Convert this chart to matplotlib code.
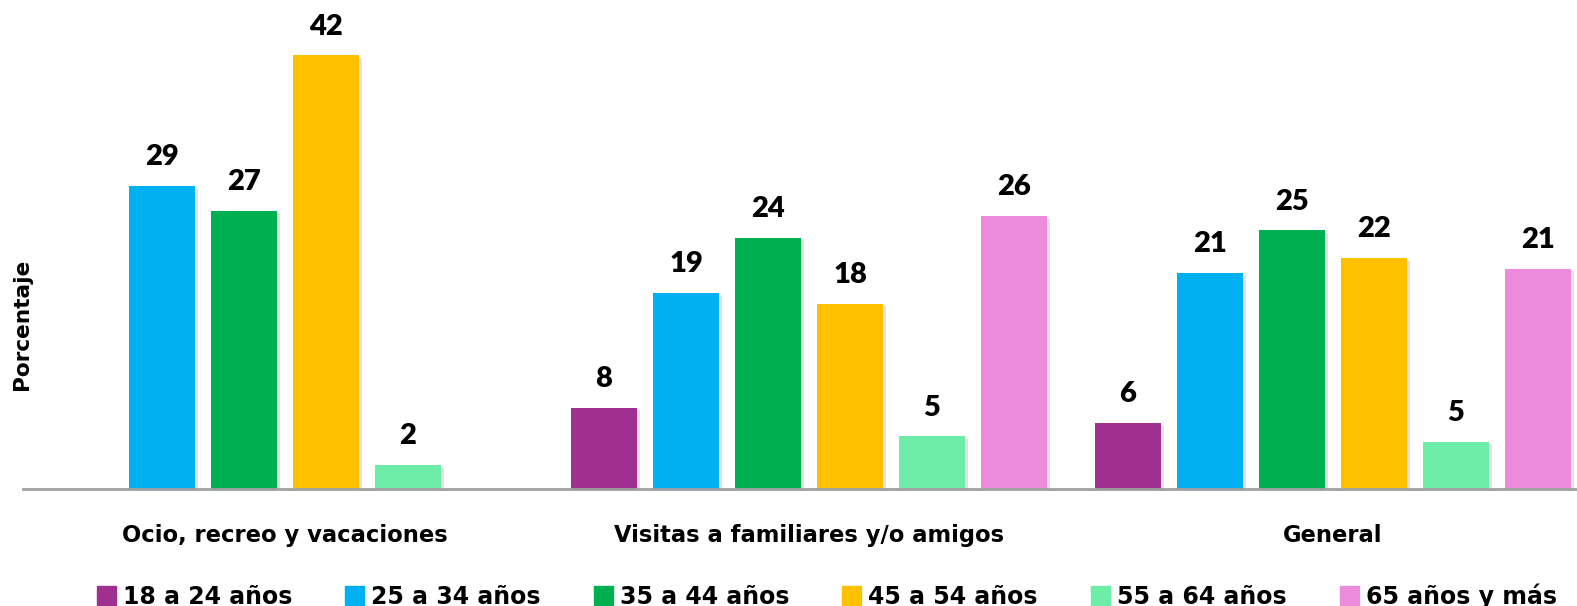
import numpy as np
import matplotlib
matplotlib.use("Agg")
import matplotlib.pyplot as plt
from matplotlib.patches import Rectangle
import matplotlib.patheffects as pe

plt.rcParams['font.family'] = ['Lato', 'DejaVu Sans']
WIDE = ['DejaVu Sans']

categories = ["Ocio, recreo y vacaciones", "Visitas a familiares y/o amigos", "General"]
series_names = ["18 a 24 años", "25 a 34 años", "35 a 44 años",
                "45 a 54 años", "55 a 64 años", "65 años y más"]
colors = ["#A0308F", "#00B0F0", "#00B050", "#FFC000", "#6EEDA9", "#EE8ADC"]

v_18_24 = [np.nan, 7.9, 6.4]
v_25_34 = [29.4, 19.0, 21.0]
v_35_44 = [27.0, 24.4, 25.1]
v_45_54 = [42.1, 18.0, 22.4]
v_55_64 = [2.3, 5.1, 4.6]
v_65_mas = [np.nan, 26.5, 21.4]
values = [v_18_24, v_25_34, v_35_44, v_45_54, v_55_64, v_65_mas]

W, H = 1577, 606
fig = plt.figure(figsize=(W / 100, H / 100), dpi=100)
base_px = 489
ax = fig.add_axes([23 / W, (H - base_px) / H, 1 - 23 / W, base_px / H])

x = np.arange(len(categories))
step = 82 / 524
width = 66 / 524
offsets = (np.arange(6) - 2.5) * step

shadow = [pe.SimplePatchShadow(offset=(2, -2), shadow_rgbFace='#888888', alpha=0.25), pe.Normal()]
for i, (vals, col) in enumerate(zip(values, colors)):
    vals = np.array(vals, dtype=float)
    bars = ax.bar(x + offsets[i], np.nan_to_num(vals), width=width, color=col,
                  zorder=2, label=series_names[i])
    for b, v in zip(bars, vals):
        if np.isnan(v):
            b.set_visible(False)
            continue
        b.set_path_effects(shadow)
        ax.annotate(f"{v:.0f}", (b.get_x() + b.get_width() / 2, v),
                    xytext=(0, 15), textcoords='offset points',
                    ha='center', va='baseline', fontsize=21, fontweight='heavy',
                    color='black', zorder=3)

k = 10.3
ax.set_ylim(0, base_px / k)
ax.set_xlim(-0.5, -0.5 + (W - 23) / 524)
ax.set_yticks([])
ax.set_xticks(x)
ax.set_xticklabels(categories, fontsize=16.3, fontweight='bold', family=WIDE)
ax.tick_params(axis='x', length=0, pad=25)
for s in ['top', 'right', 'left']:
    ax.spines[s].set_visible(False)
ax.spines['bottom'].set_color('#A0A0A0')
ax.spines['bottom'].set_linewidth(2)
ax.spines['bottom'].set_zorder(4)

fig.text(22 / W, 1 - 324 / H, "Porcentaje", rotation=90, ha='center', va='center',
         fontsize=15.6, fontweight='bold', family=WIDE)

# legend: equal spacing between entries
leg_fs = 17
leg_px = leg_fs * 100 / 72
renderer = fig.canvas.get_renderer()
tmp = fig.text(0, 0, series_names[0], fontsize=leg_fs, fontweight='bold', family=WIDE)
tw = tmp.get_window_extent(renderer).width
tmp.remove()
colsp = (248.4 - 19 - 7 - tw) / leg_px

handles = [Rectangle((0, 0), 1, 1, color=c) for c in colors]
leg = fig.legend(handles, series_names, ncol=6, loc='lower left',
                 bbox_to_anchor=(97 / W, -3 / H), frameon=False,
                 handlelength=19 / leg_px, handleheight=20 / leg_px,
                 handletextpad=7 / leg_px, columnspacing=colsp, borderpad=0,
                 borderaxespad=0, prop={'weight': 'bold', 'size': leg_fs, 'family': WIDE})

fig.savefig("out.png", dpi=100)
